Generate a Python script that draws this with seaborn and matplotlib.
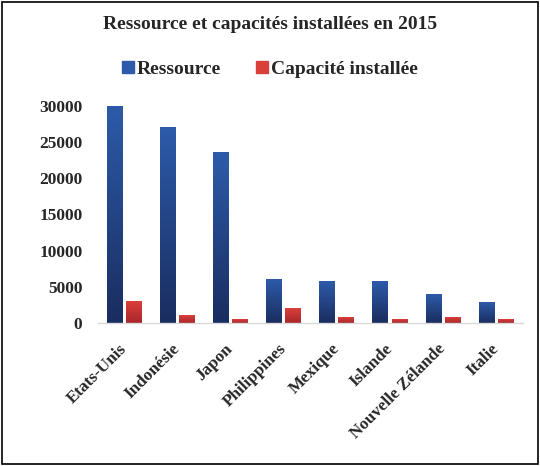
import matplotlib
matplotlib.use("Agg")
import matplotlib.pyplot as plt
from matplotlib.colors import LinearSegmentedColormap
from matplotlib.lines import Line2D
from matplotlib.patches import Rectangle
import numpy as np
import pandas as pd
import seaborn as sns

# données
pays = ["Etats-Unis", "Indonésie", "Japon", "Philippines", "Mexique",
        "Islande", "Nouvelle Zélande", "Italie"]
ressource = [30000, 27000, 23500, 6000, 5800, 5700, 3900, 2900]
capacite = [3000, 1000, 500, 1950, 700, 550, 700, 550]
series = ["Ressource", "Capacité installée"]
yticks = [0, 5000, 10000, 15000, 20000, 25000, 30000]

df = pd.DataFrame({
    "pays": pays * 2,
    "valeur": ressource + capacite,
    "serie": [series[0]] * len(pays) + [series[1]] * len(pays),
})

# couleurs (haut clair -> bas foncé)
bleu_haut, bleu_bas = "#2D5BAA", "#1A2D5F"
rouge_haut, rouge_bas = "#DA403A", "#A8262A"

sns.set_theme(style="white")
plt.rcParams["font.family"] = ["Liberation Serif", "DejaVu Serif"]
plt.rcParams["font.weight"] = "bold"

fig = plt.figure(figsize=(5.4, 4.66), dpi=100)
ax = fig.add_axes([0.181, 0.307, 0.787, 0.466])

sns.barplot(data=df, x="pays", y="valeur", hue="serie", hue_order=series,
            palette=[bleu_haut, rouge_haut], width=0.72, gap=0.17,
            legend=False, ax=ax, errorbar=None)

# dégradé vertical dans chaque barre
cmaps = [LinearSegmentedColormap.from_list("b", [bleu_bas, bleu_haut]),
         LinearSegmentedColormap.from_list("r", [rouge_bas, rouge_haut])]
grad = np.linspace(0, 1, 256).reshape(-1, 1)
n = len(pays)
for i, patch in enumerate(list(ax.patches)):
    x0, w, h = patch.get_x(), patch.get_width(), patch.get_height()
    ax.imshow(grad, origin="lower", extent=[x0, x0 + w, 0, h], cmap=cmaps[i // n],
              aspect="auto", zorder=patch.get_zorder() + 0.1, interpolation="bilinear")

ax.set_xlim(-0.5, n - 0.5)
ax.set_ylim(0, 30000)
ax.set_yticks(yticks)
ax.set_xlabel("")
ax.set_ylabel("")

for s in ["left", "top", "right"]:
    ax.spines[s].set_visible(False)
ax.spines["bottom"].set_color("#D9D9D9")
ax.spines["bottom"].set_linewidth(1)

ax.tick_params(axis="y", length=0, pad=11, labelsize=12.5)
ax.tick_params(axis="x", length=0, pad=17, labelsize=12.3)
for lab in ax.get_yticklabels():
    lab.set_fontweight("bold")
for lab in ax.get_xticklabels():
    lab.set_rotation(45)
    lab.set_ha("right")
    lab.set_va("center")
    lab.set_rotation_mode("anchor")
    lab.set_fontweight("bold")

fig.text(0.5, 0.947, "Ressource et capacités installées en 2015",
         ha="center", va="center", fontsize=14, fontweight="bold")

handles = [Line2D([], [], marker="s", linestyle="", markersize=8,
                  markerfacecolor=c, markeredgecolor=c) for c in [bleu_haut, rouge_haut]]
fig.legend(handles, series, loc="center", bbox_to_anchor=(0.5, 0.852), ncol=2,
           frameon=False, prop={"size": 14, "weight": "bold"},
           handlelength=0.6, handletextpad=0.15, columnspacing=1.8)

fig.add_artist(Rectangle((0.003, 0.005), 0.993, 0.99, transform=fig.transFigure,
                         fill=False, edgecolor="black", linewidth=1.2))

fig.savefig("out.png", dpi=100)
plt.close(fig)
